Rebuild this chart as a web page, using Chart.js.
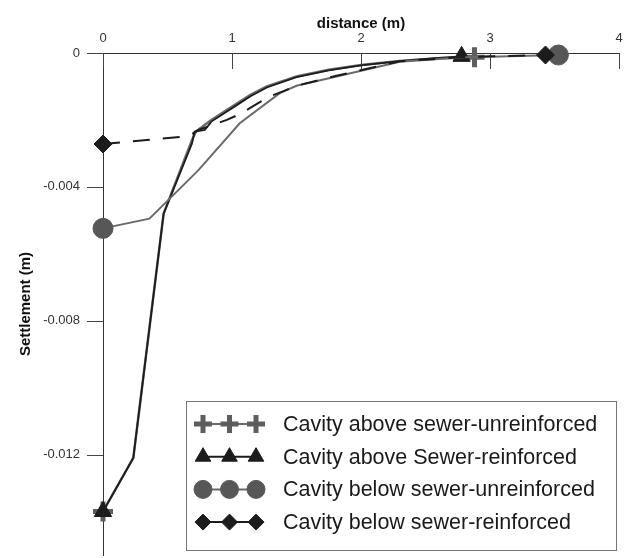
<!DOCTYPE html>
<html>
<head>
<meta charset="utf-8">
<script src="https://cdn.jsdelivr.net/npm/chart.js@4.4.1/dist/chart.umd.min.js"></script>
<style>
  html, body { margin: 0; padding: 0; background: #fff; }
  .chart-box { width: 629px; height: 558px; position: relative; }
</style>
</head>
<body>
<div class="chart-box"><canvas id="settlementChart"></canvas></div>
<script>
// distance (m) and settlement (m)
const aboveUnreinfX = [0, 0.235, 0.47, 0.69, 0.72, 0.84, 1.04, 1.14, 1.27, 1.50, 1.75, 2.0, 2.3, 2.6, 2.88];
const aboveUnreinfY = [-0.0137, -0.0121, -0.0048, -0.0026, -0.00235, -0.0020, -0.0015, -0.00126, -0.0010, -0.0007, -0.0005, -0.00036, -0.00024, -0.00016, -0.00013];

const aboveReinfX = [0, 0.235, 0.47, 0.69, 0.71, 0.79, 0.84, 1.04, 1.14, 1.27, 1.50, 1.75, 2.0, 2.3, 2.6, 2.78];
const aboveReinfY = [-0.0137, -0.0121, -0.0048, -0.0027, -0.00235, -0.0023, -0.00205, -0.00155, -0.0013, -0.00103, -0.00072, -0.00052, -0.00037, -0.00024, -0.00015, -0.0001];

const belowUnreinfX = [0, 0.36, 0.74, 1.06, 1.37, 1.50, 1.81, 2.3, 2.8, 3.0, 3.53];
const belowUnreinfY = [-0.00524, -0.00495, -0.0035, -0.0021, -0.0012, -0.00098, -0.0007, -0.00026, -0.00013, -0.00011, -0.00006];

const belowReinfX = [0, 0.62, 0.70, 0.74, 0.96, 1.075, 1.18, 1.29, 1.40, 1.50, 1.81, 2.3, 2.8, 3.0, 3.43];
const belowReinfY = [-0.00272, -0.0025, -0.0024, -0.0023, -0.0020, -0.0018, -0.00155, -0.0013, -0.00114, -0.00098, -0.00068, -0.00025, -0.00012, -0.0001, -0.00006];

const seriesLabels = [
  'Cavity above sewer-unreinforced',
  'Cavity above Sewer-reinforced',
  'Cavity below sewer-unreinforced',
  'Cavity below sewer-reinforced'
];

const distanceTicks = [0, 1, 2, 3, 4];
const settlementTicks = [0, -0.004, -0.008, -0.012];

const zip = (xs, ys) => xs.map((x, i) => ({ x: x, y: ys[i] }));

// markers only on the first and last point of each curve
const endsOnly = (r) => (ctx) =>
  (ctx.dataIndex === 0 || ctx.dataIndex === ctx.dataset.data.length - 1) ? r : 0;

const markerSize = [10, 10, 10, 9];

const isLabelled = (list, v) => list.some(t => Math.abs(t - v) < 1e-9);

// tick marks of two lengths, pointing inside like the original
const axisTicks = {
  id: 'axisTicks',
  beforeDatasetsDraw(chart) {
    const { ctx, chartArea, scales } = chart;
    ctx.save();
    ctx.strokeStyle = '#444';
    ctx.lineWidth = 1;
    ctx.beginPath();
    scales.x.ticks.forEach(t => {
      const px = Math.round(scales.x.getPixelForValue(t.value)) + 0.5;
      const len = isLabelled(distanceTicks, t.value) ? 16 : 9;
      ctx.moveTo(px, chartArea.top);
      ctx.lineTo(px, chartArea.top + len);
    });
    scales.y.ticks.forEach(t => {
      const milli = t.value * 1000;
      if (Math.abs(milli - Math.round(milli)) > 1e-6 || Math.round(milli) % 2 !== 0) return;
      const py = Math.round(scales.y.getPixelForValue(t.value)) + 0.5;
      const len = isLabelled(settlementTicks, t.value) ? 16 : 7;
      ctx.moveTo(chartArea.left - len, py);
      ctx.lineTo(chartArea.left, py);
    });
    ctx.stroke();
    ctx.restore();
  }
};

// boxed legend with three joined markers per row
const boxLegend = {
  id: 'boxLegend',
  afterDraw(chart) {
    const ctx = chart.ctx;
    ctx.save();
    ctx.fillStyle = '#fff';
    ctx.fillRect(186, 401, 430, 149);
    ctx.strokeStyle = '#777';
    ctx.lineWidth = 1;
    ctx.strokeRect(186.5, 401.5, 430, 149);

    chart.data.datasets.forEach((ds, i) => {
      const cy = 424 + i * 32.7;
      ctx.setLineDash([]);
      ctx.strokeStyle = ds.borderColor;
      ctx.lineWidth = 2;
      ctx.beginPath();
      ctx.moveTo(203, cy);
      ctx.lineTo(256, cy);
      ctx.stroke();

      [203, 229.5, 256].forEach(cx => {
        ctx.fillStyle = ds.pointBackgroundColor;
        ctx.strokeStyle = ds.pointBorderColor;
        ctx.lineWidth = ds.pointBorderWidth;
        Chart.helpers.drawPoint(ctx, {
          pointStyle: ds.pointStyle,
          radius: markerSize[i] - 1,
          borderWidth: ds.pointBorderWidth,
          rotation: 0
        }, cx, cy);
      });

      ctx.fillStyle = '#1a1a1a';
      ctx.font = '21.5px "Liberation Sans", Arial, sans-serif';
      ctx.textBaseline = 'middle';
      ctx.textAlign = 'left';
      ctx.fillText(ds.label, 283, cy + 1);
    });
    ctx.restore();
  }
};

Chart.defaults.font.family = '"Liberation Sans", Arial, sans-serif';

new Chart(document.getElementById('settlementChart'), {
  type: 'line',
  data: {
    datasets: [
      {
        label: seriesLabels[0],
        data: zip(aboveUnreinfX, aboveUnreinfY),
        borderColor: '#6a6a6a',
        borderWidth: 2.5,
        pointStyle: 'cross',
        pointRadius: endsOnly(markerSize[0]),
        pointBorderWidth: 5,
        pointBorderColor: '#5e5e5e',
        pointBackgroundColor: '#5e5e5e',
        order: 4,
        clip: false
      },
      {
        label: seriesLabels[1],
        data: zip(aboveReinfX, aboveReinfY),
        borderColor: '#1c1c1c',
        borderWidth: 1.8,
        pointStyle: 'triangle',
        pointRadius: endsOnly(markerSize[1]),
        pointBorderWidth: 1,
        pointBorderColor: '#1c1c1c',
        pointBackgroundColor: '#1c1c1c',
        order: 3,
        clip: false
      },
      {
        label: seriesLabels[2],
        data: zip(belowUnreinfX, belowUnreinfY),
        borderColor: '#6a6a6a',
        borderWidth: 2,
        pointStyle: 'circle',
        pointRadius: endsOnly(markerSize[2]),
        pointBorderWidth: 1,
        pointBorderColor: '#575757',
        pointBackgroundColor: '#575757',
        order: 2,
        clip: false
      },
      {
        label: seriesLabels[3],
        data: zip(belowReinfX, belowReinfY),
        borderColor: '#1c1c1c',
        borderWidth: 2,
        borderDash: [17, 13],
        pointStyle: 'rectRot',
        pointRadius: endsOnly(markerSize[3]),
        pointBorderWidth: 1,
        pointBorderColor: '#1c1c1c',
        pointBackgroundColor: '#1c1c1c',
        order: 1,
        clip: false
      }
    ]
  },
  options: {
    responsive: true,
    maintainAspectRatio: false,
    animation: false,
    layout: { autoPadding: false, padding: { left: 0, top: 0, right: 10, bottom: 3 } },
    plugins: {
      legend: { display: false },
      tooltip: { enabled: false }
    },
    scales: {
      x: {
        type: 'linear',
        position: 'top',
        min: 0,
        max: 4,
        border: { color: '#333', width: 1 },
        // invisible tick marks only push the labels off the axis line
        grid: { drawOnChartArea: false, drawTicks: true, tickLength: 7, tickColor: 'rgba(0,0,0,0)' },
        ticks: {
          stepSize: 0.5,
          padding: 0,
          maxRotation: 0,
          autoSkip: false,
          color: '#333',
          font: { size: 13 },
          callback: (v) => isLabelled(distanceTicks, v) ? String(v) : null
        },
        title: {
          display: true,
          text: 'distance (m)',
          color: '#111',
          font: { size: 15, weight: 'bold' },
          padding: { top: 15, bottom: 0 }
        },
        afterFit: (scale) => {
          scale.height = 53;
          scale.paddingLeft = 0;
          scale.paddingRight = 0;
        }
      },
      y: {
        min: -0.015,
        max: 0,
        border: { color: '#333', width: 1 },
        grid: { drawOnChartArea: false, drawTicks: true, tickLength: 23, tickColor: 'rgba(0,0,0,0)' },
        ticks: {
          stepSize: 0.002,
          padding: 0,
          autoSkip: false,
          color: '#333',
          font: { size: 13 },
          callback: (v) => isLabelled(settlementTicks, v) ? (v === 0 ? '0' : v.toFixed(3)) : null
        },
        title: {
          display: true,
          text: 'Settlement (m)',
          color: '#111',
          font: { size: 15, weight: 'bold' },
          padding: { top: 17, bottom: 0 }
        },
        afterFit: (scale) => {
          scale.width = 103;
          scale.paddingTop = 0;
          scale.paddingBottom = 0;
        }
      }
    }
  },
  plugins: [axisTicks, boxLegend]
});
</script>
</body>
</html>
